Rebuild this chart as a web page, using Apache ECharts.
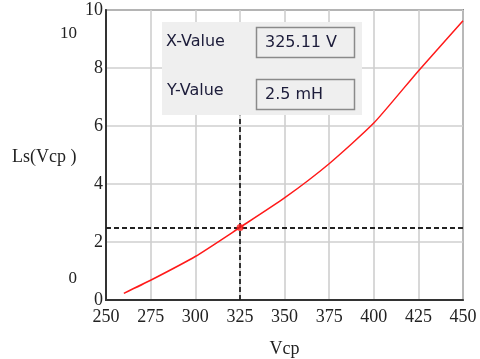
<!DOCTYPE html>
<html>
<head>
<meta charset="utf-8">
<script src="https://cdn.jsdelivr.net/npm/echarts@6/dist/echarts.min.js"></script>
<style>html,body{margin:0;padding:0;background:#fff}#c{width:480px;height:359px}</style>
</head>
<body>
<div id="c"></div>
<script>
// Data
var vcp = [260, 275, 300, 325, 350, 375, 400, 425, 450];
var ls  = [0.23, 0.68, 1.50, 2.50, 3.52, 4.70, 6.10, 7.90, 9.63];
var cursorX = 325.11;
var cursorY = 2.5;
var xTicks = [250, 275, 300, 325, 350, 375, 400, 425, 450];
var yTicks = [0, 2, 4, 6, 8, 10];
var xLabelText = 'X-Value';
var yLabelText = 'Y-Value';
var xValueText = '325.11 V';
var yValueText = '2.5 mH';
var yAxisTitle = 'Ls(Vcp )';
var xAxisTitle = 'Vcp';
var yTopLimit = '10';
var yBottomLimit = '0';

var serif = '"Liberation Serif", "DejaVu Serif", serif';
var sans = '"DejaVu Sans", sans-serif';

var chart = echarts.init(document.getElementById('c'), null, {renderer: 'canvas'});
var pts = vcp.map(function (v, i) { return [v, ls[i]]; });
// vertical cursor line ends under the read-out panel (panel bottom edge)
var panelBottomValue = 6.35;

chart.setOption({
  animation: false,
  grid: {left: 106, top: 10, right: 17, bottom: 59, show: true, borderColor: '#333', borderWidth: 1.5, backgroundColor: '#fff', containLabel: false, outerBoundsMode: 'none'},
  xAxis: {
    type: 'value', min: xTicks[0], max: xTicks[xTicks.length - 1], interval: 25,
    name: xAxisTitle, nameLocation: 'middle', nameGap: 40,
    nameTextStyle: {fontFamily: serif, fontSize: 18, color: '#222'},
    axisLine: {show: true, lineStyle: {color: '#333', width: 2}},
    axisTick: {show: false},
    axisLabel: {fontFamily: serif, fontSize: 18, color: '#222', margin: 8, showMinLabel: true, showMaxLabel: true},
    splitLine: {show: true, lineStyle: {color: '#cfcfcf', width: 1.6}}
  },
  yAxis: {
    type: 'value', min: yTicks[0], max: yTicks[yTicks.length - 1], interval: 2,
    axisLine: {show: true, lineStyle: {color: '#333', width: 2}},
    axisTick: {show: false},
    axisLabel: {fontFamily: serif, fontSize: 18, color: '#222', margin: 3},
    splitLine: {show: true, lineStyle: {color: '#cfcfcf', width: 1.6}}
  },
  series: [
    {
      type: 'line', data: pts, smooth: 0.2, showSymbol: false,
      lineStyle: {color: '#ff1a1a', width: 1.5},
      markLine: {
        silent: true, symbol: 'none', label: {show: false},
        lineStyle: {color: '#222', type: [5, 3], width: 1.8},
        data: [
          [{coord: [cursorX, yTicks[0]]}, {coord: [cursorX, panelBottomValue]}],
          {yAxis: cursorY}
        ]
      },
      z: 3
    },
    {
      type: 'scatter', data: [[cursorX, cursorY]], symbolSize: 7,
      itemStyle: {color: '#ff1a1a'}, z: 5
    }
  ],
  graphic: [
    {type: 'rect', shape: {x: 162, y: 22, width: 200, height: 93}, style: {fill: '#efefef'}, z: 100},
    {type: 'rect', shape: {x: 256.5, y: 27.5, width: 98, height: 30}, style: {fill: '#efefef', stroke: '#8a8a8a', lineWidth: 1.5}, z: 101},
    {type: 'rect', shape: {x: 256.5, y: 79.5, width: 98, height: 30}, style: {fill: '#efefef', stroke: '#8a8a8a', lineWidth: 1.5}, z: 101},
    {type: 'text', x: 166, y: 42, style: {text: xLabelText, font: '16px ' + sans, fill: '#1c1c3a', verticalAlign: 'middle'}, z: 102},
    {type: 'text', x: 167, y: 91, style: {text: yLabelText, font: '16px ' + sans, fill: '#1c1c3a', verticalAlign: 'middle'}, z: 102},
    {type: 'text', x: 265, y: 43, style: {text: xValueText, font: '16px ' + sans, fill: '#1c1c3a', verticalAlign: 'middle'}, z: 102},
    {type: 'text', x: 265, y: 95, style: {text: yValueText, font: '16px ' + sans, fill: '#1c1c3a', verticalAlign: 'middle'}, z: 102},
    {type: 'text', x: 77, y: 34, style: {text: yTopLimit, font: '17px ' + serif, fill: '#222', align: 'right', verticalAlign: 'middle'}, z: 102},
    {type: 'text', x: 77, y: 279, style: {text: yBottomLimit, font: '17px ' + serif, fill: '#222', align: 'right', verticalAlign: 'middle'}, z: 102},
    {type: 'text', x: 12, y: 157, style: {text: yAxisTitle, font: '18px ' + serif, fill: '#222', verticalAlign: 'middle'}, z: 102}
  ]
});
</script>
</body>
</html>
